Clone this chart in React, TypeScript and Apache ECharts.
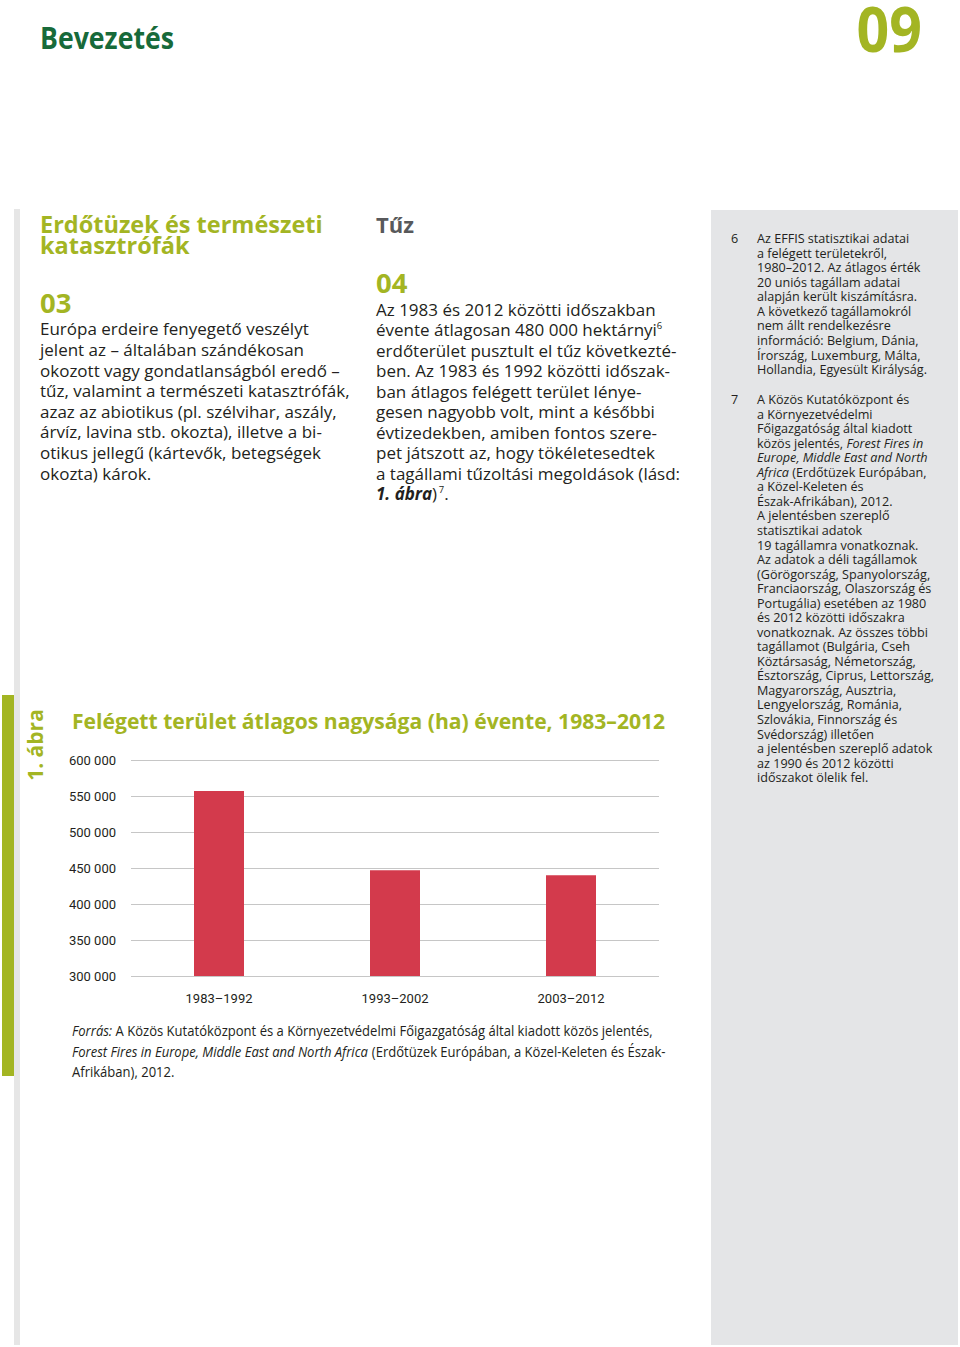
import React, { useEffect, useRef } from 'react';
import * as echarts from 'echarts';

// ---- chart data ----
const categories = ['1983–1992', '1993–2002', '2003–2012'];
const burnedArea = [557000, 447000, 440000];
const yAxisMin = 300000;
const yAxisMax = 600000;
const yAxisStep = 50000;

// ---- page texts ----
const pageHeading = 'Bevezetés';
const pageNumber = '09';
const sectionTitle = ['Erdőtüzek és természeti', 'katasztrófák'];
const para03 = [
  '{h|03}',
  'Európa erdeire fenyegető veszélyt',
  'jelent az – általában szándékosan',
  'okozott vagy gondatlanságból eredő –',
  'tűz, valamint a természeti katasztrófák,',
  'azaz az abiotikus (pl. szélvihar, aszály,',
  'árvíz, lavina stb. okozta), illetve a bi-',
  'otikus jellegű (kártevők, betegségek',
  'okozta) károk.',
];
const fireHeading = 'Tűz';
const para04 = [
  '{h|04}',
  'Az 1983 és 2012 közötti időszakban',
  'évente átlagosan 480 000 hektárnyi{s|6}',
  'erdőterület pusztult el tűz következté-',
  'ben. Az 1983 és 1992 közötti időszak-',
  'ban átlagos felégett terület lénye-',
  'gesen nagyobb volt, mint a későbbi',
  'évtizedekben, amiben fontos szere-',
  'pet játszott az, hogy tökéletesedtek',
  'a tagállami tűzoltási megoldások (lásd:',
  '{b|1. ábra})\u200A{s|7}.',
];
const footnote6 = [
  'Az EFFIS statisztikai adatai',
  'a felégett területekről,',
  '1980–2012. Az átlagos érték',
  '20 uniós tagállam adatai',
  'alapján került kiszámításra.',
  'A következő tagállamokról',
  'nem állt rendelkezésre',
  'információ: Belgium, Dánia,',
  'Írország, Luxemburg, Málta,',
  'Hollandia, Egyesült Királyság.',
];
const footnote7 = [
  'A Közös Kutatóközpont és',
  'a Környezetvédelmi',
  'Főigazgatóság által kiadott',
  'közös jelentés, {i|Forest Fires in}',
  '{i|Europe, Middle East and North}',
  '{i|Africa} (Erdőtüzek Európában,',
  'a Közel-Keleten és',
  'Észak-Afrikában), 2012.',
  'A jelentésben szereplő',
  'statisztikai adatok',
  '19 tagállamra vonatkoznak.',
  'Az adatok a déli tagállamok',
  '(Görögország, Spanyolország,',
  'Franciaország, Olaszország és',
  'Portugália) esetében az 1980',
  'és 2012 közötti időszakra',
  'vonatkoznak. Az összes többi',
  'tagállamot (Bulgária, Cseh',
  'Köztársaság, Németország,',
  'Észtország, Ciprus, Lettország,',
  'Magyarország, Ausztria,',
  'Lengyelország, Románia,',
  'Szlovákia, Finnország és',
  'Svédország) illetően',
  'a jelentésben szereplő adatok',
  'az 1990 és 2012 közötti',
  'időszakot ölelik fel.',
];
const chartTitle = 'Felégett terület átlagos nagysága (ha) évente, 1983–2012';
const figureLabel = '1. ábra';
const sourceLines = [
  '{i|Forrás:} A Közös Kutatóközpont és a Környezetvédelmi Főigazgatóság által kiadott közös jelentés,',
  '{i|Forest Fires in Europe, Middle East and North Africa} (Erdőtüzek Európában, a Közel-Keleten és Észak-',
  'Afrikában), 2012.',
];

const GREEN = '#a3b523';
const DARK_GREEN = '#176a3a';
const INK = '#231f20';
const GREY_HEAD = '#58595b';
const BAR = '#d33a4c';
const GRID = '#c6c6c6';
const PANEL = '#e4e5e7';
const SANS = "'Open Sans', 'Noto Sans', sans-serif";

const fmt = (v: number) => String(v).replace(/\B(?=(\d{3})+(?!\d))/g, ' ');

function wrapPlain(line: string) {
  const out: string[] = [];
  const re = /\{(\w)\|([^}]*)\}/g;
  let last = 0;
  let m: RegExpExecArray | null;
  while ((m = re.exec(line))) {
    if (m.index > last) out.push('{n|' + line.slice(last, m.index) + '}');
    out.push(m[0]);
    last = m.index + m[0].length;
  }
  if (last < line.length) out.push('{n|' + line.slice(last) + '}');
  return out.join('');
}

type Tok = { size: number; lh: number; color?: string; weight?: string; italic?: boolean; lift?: number };

function tok(t: Tok) {
  const c = t.color || INK;
  const o: any = {
    fontSize: t.size,
    fontFamily: SANS,
    fontWeight: t.weight || 'normal',
    fontStyle: t.italic ? 'italic' : 'normal',
    fill: c,
    color: c,
    lineHeight: t.lh,
    verticalAlign: 'middle',
  };
  if (t.lift) o.padding = [0, 0, t.lift * 2, 0];
  return o;
}

function block(lines: string[], x: number, top: number, rich: Record<string, any>, sx = 1) {
  return {
    type: 'text',
    x,
    y: top,
    scaleX: sx,
    silent: true,
    style: {
      text: lines.map(wrapPlain).join('\n'),
      rich,
      fontSize: rich.n.fontSize,
      fontFamily: SANS,
      fill: rich.n.fill,
      align: 'left',
      verticalAlign: 'top',
    },
  };
}

function textEl(
  text: string,
  x: number,
  y: number,
  o: { size: number; weight?: string; color?: string; sx?: number; sy?: number; align?: string; rot?: number }
) {
  return {
    type: 'text',
    x,
    y,
    scaleX: o.sx || 1,
    scaleY: o.sy || 1,
    rotation: o.rot || 0,
    silent: true,
    style: {
      text,
      fontSize: o.size,
      fontFamily: SANS,
      fontWeight: o.weight || 'normal',
      fill: o.color || INK,
      align: o.align || 'left',
      verticalAlign: 'middle',
    },
  };
}

export default function App() {
  const ref = useRef<HTMLDivElement>(null);
  useEffect(() => {
    if (!ref.current) return;
    const chart = echarts.init(ref.current, null, { renderer: 'svg' });
    const g: any[] = [];
    // decorative blocks
    g.push({ type: 'rect', shape: { x: 14, y: 209, width: 6, height: 1136 }, style: { fill: '#e6e6e6' }, silent: true });
    g.push({ type: 'rect', shape: { x: 2, y: 695, width: 12, height: 381 }, style: { fill: GREEN }, silent: true });
    g.push({ type: 'rect', shape: { x: 711, y: 210, width: 247, height: 1135 }, style: { fill: PANEL }, silent: true });

    // header
    g.push(textEl(pageHeading, 40, 37, { size: 30, weight: 'bold', color: DARK_GREEN, sx: 0.89 }));
    g.push(textEl(pageNumber, 922, 28, { size: 52, weight: 'bold', color: GREEN, sx: 1.1, sy: 1.2, align: 'right' }));

    // left column
    g.push(block(sectionTitle, 40, 213.5, { n: tok({ size: 23.5, lh: 21, weight: 'bold', color: GREEN }) }));
    g.push(
      block(para03, 40, 286.3, {
        n: tok({ size: 17, lh: 20.6 }),
        h: tok({ size: 27.5, lh: 32.4, weight: 'bold', color: GREEN }),
      })
    );

    // middle column
    g.push(textEl(fireHeading, 376, 224, { size: 22, weight: 'bold', color: GREY_HEAD }));
    g.push(
      block(para04, 376, 266.3, {
        n: tok({ size: 17, lh: 20.55 }),
        h: tok({ size: 27.5, lh: 32.45, weight: 'bold', color: GREEN }),
        b: tok({ size: 17, lh: 20.55, weight: 'bold', italic: true }),
        s: tok({ size: 9.5, lh: 10, lift: 4 }),
      })
    );

    // footnotes
    const fnRich = (lh: number) => ({
      n: tok({ size: 13.5, lh }),
      i: tok({ size: 13.5, lh, italic: true }),
    });
    g.push(textEl('6', 731, 238, { size: 13.5, sx: 0.935 }));
    g.push(block(footnote6, 757, 230.7, fnRich(14.55), 0.935));
    g.push(textEl('7', 731, 399, { size: 13.5, sx: 0.935 }));
    g.push(block(footnote7, 757, 391.7, fnRich(14.54), 0.935));

    // figure
    g.push(textEl(figureLabel, 35, 745, { size: 21, weight: 'bold', color: GREEN, align: 'center', rot: Math.PI / 2 }));
    g.push(textEl(chartTitle, 72, 720, { size: 22, weight: 'bold', color: GREEN, sx: 0.96 }));
    g.push(
      block(sourceLines, 72, 1020.7, {
        n: tok({ size: 14, lh: 20.6 }),
        i: tok({ size: 14, lh: 20.6, italic: true }),
      }, 0.933)
    );

    chart.setOption({
      animation: false,
      backgroundColor: '#ffffff',
      grid: { left: 131, right: 301, top: 760, bottom: 371, containLabel: false },
      xAxis: {
        type: 'category',
        data: categories,
        axisLine: { show: false },
        axisTick: { show: false },
        axisLabel: { margin: 16, color: INK, fontSize: 13, fontFamily: 'Roboto, sans-serif' },
      },
      yAxis: {
        type: 'value',
        min: yAxisMin,
        max: yAxisMax,
        interval: yAxisStep,
        axisLine: { show: false },
        axisTick: { show: false },
        splitLine: { show: true, lineStyle: { color: GRID, width: 1 } },
        axisLabel: { margin: 15, color: INK, fontSize: 13, fontFamily: 'Roboto, sans-serif', formatter: (v: number) => fmt(v) },
      },
      series: [
        {
          type: 'bar',
          data: burnedArea,
          barWidth: 50,
          itemStyle: { color: BAR },
          silent: true,
        },
      ],
      graphic: g,
    });
    return () => chart.dispose();
  }, []);
  return <div ref={ref} style={{ position: 'absolute', left: 0, top: 0, width: 960, height: 1347, background: '#fff' }} />;
}
